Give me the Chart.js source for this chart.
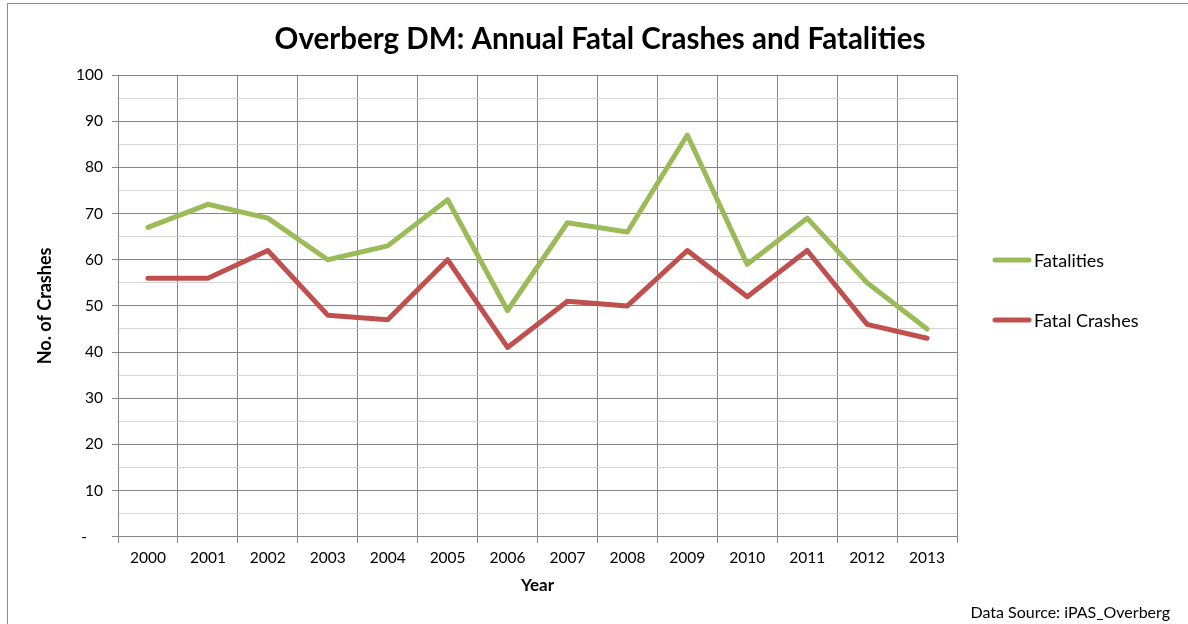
<!DOCTYPE html>
<html>
<head>
<meta charset="utf-8">
<script src="https://cdn.jsdelivr.net/npm/chart.js@4/dist/chart.umd.min.js"></script>
<style>
  html, body { margin: 0; padding: 0; background: #fff; overflow: hidden; }
  #marco { position: absolute; left: 7px; top: 3px; width: 1300px; height: 700px; border: 1.5px solid #8c8c8c; }
  #contenedor { position: absolute; left: 0; top: 0; width: 1188px; height: 624px; }
</style>
</head>
<body>
<div id="marco"></div>
<div id="contenedor"><canvas id="grafico"></canvas></div>
<script>
// Datos
const anios = ['2000', '2001', '2002', '2003', '2004', '2005', '2006', '2007', '2008', '2009', '2010', '2011', '2012', '2013'];
const fatalidades = [67, 72, 69, 60, 63, 73, 49, 68, 66, 87, 59, 69, 55, 45];
const choquesFatales = [56, 56, 62, 48, 47, 60, 41, 51, 50, 62, 52, 62, 46, 43];

const FUENTE = 'Lato, "DejaVu Sans", sans-serif';
Chart.defaults.font.family = FUENTE;
Chart.defaults.color = '#000';

const GRIS = '#868686';
const GRIS_CLARO = '#d4d4d4';

// Leyenda a la derecha, dibujada a mano
const leyendaLateral = {
  id: 'leyendaLateral',
  afterDraw(chart) {
    const { ctx, chartArea } = chart;
    const x = chartArea.right + 38;
    ctx.save();
    ctx.font = '18px ' + FUENTE;
    ctx.textBaseline = 'middle';
    chart.data.datasets.forEach((ds, i) => {
      const y = chartArea.top + 185 + i * 60;
      ctx.strokeStyle = ds.borderColor;
      ctx.lineWidth = 5;
      ctx.lineCap = 'round';
      ctx.beginPath();
      ctx.moveTo(x, y);
      ctx.lineTo(x + 34, y);
      ctx.stroke();
      ctx.fillStyle = '#000';
      ctx.fillText(ds.label, x + 39, y + 1);
    });
    ctx.restore();
  }
};

new Chart(document.getElementById('grafico'), {
  type: 'line',
  data: {
    labels: anios,
    datasets: [
      {
        label: 'Fatalities',
        data: fatalidades,
        borderColor: '#9bbb59',
        backgroundColor: '#9bbb59',
        borderWidth: 5,
        pointRadius: 0,
        borderJoinStyle: 'round',
        borderCapStyle: 'round',
        tension: 0
      },
      {
        label: 'Fatal Crashes',
        data: choquesFatales,
        borderColor: '#c0504d',
        backgroundColor: '#c0504d',
        borderWidth: 5,
        pointRadius: 0,
        borderJoinStyle: 'round',
        borderCapStyle: 'round',
        tension: 0
      }
    ]
  },
  options: {
    responsive: true,
    maintainAspectRatio: false,
    animation: false,
    layout: { padding: { left: 30, right: 18, top: 0, bottom: 0 } },
    plugins: {
      legend: { display: false },
      tooltip: { enabled: false },
      title: {
        display: true,
        text: 'Overberg DM: Annual Fatal Crashes and Fatalities',
        font: { size: 29.5, weight: 'bold' },
        color: '#000',
        padding: { top: 22, bottom: 17.6 }
      },
      subtitle: {
        display: true,
        position: 'bottom',
        align: 'end',
        text: 'Data Source: iPAS_Overberg',
        font: { size: 16 },
        color: '#000',
        padding: { top: 0, bottom: 2 }
      }
    },
    scales: {
      x: {
        offset: true,
        grid: { offset: true, color: GRIS, tickLength: 6, tickColor: GRIS },
        border: { color: GRIS },
        ticks: { font: { size: 15.5 }, padding: 6, maxRotation: 0 },
        title: { display: true, text: 'Year', font: { size: 17, weight: 'bold' }, padding: { top: 4, bottom: 6.6 } },
        afterFit: s => { s.height = 66; }
      },
      y: {
        min: 0,
        max: 100,
        ticks: {
          stepSize: 5,
          autoSkip: false,
          padding: 9,
          font: { size: 15.5 },
          callback: v => v === 0 ? ' -    ' : (v % 10 === 0 ? v : '')
        },
        grid: {
          color: c => c.tick && c.tick.value % 10 === 0 ? GRIS : GRIS_CLARO,
          tickColor: c => c.tick && c.tick.value % 10 === 0 ? GRIS : 'rgba(0,0,0,0)',
          tickLength: 6
        },
        border: { color: GRIS },
        title: { display: true, text: 'No. of Crashes', font: { size: 18, weight: 'bold' } },
        afterFit: s => { s.width = 88; }
      },
      // espacio reservado para la leyenda
      espacio: {
        position: 'right',
        min: 0,
        max: 1,
        grid: { display: false },
        border: { display: false },
        ticks: { display: false },
        afterFit: s => { s.width = 213; }
      }
    }
  },
  plugins: [leyendaLateral]
});
</script>
</body>
</html>
